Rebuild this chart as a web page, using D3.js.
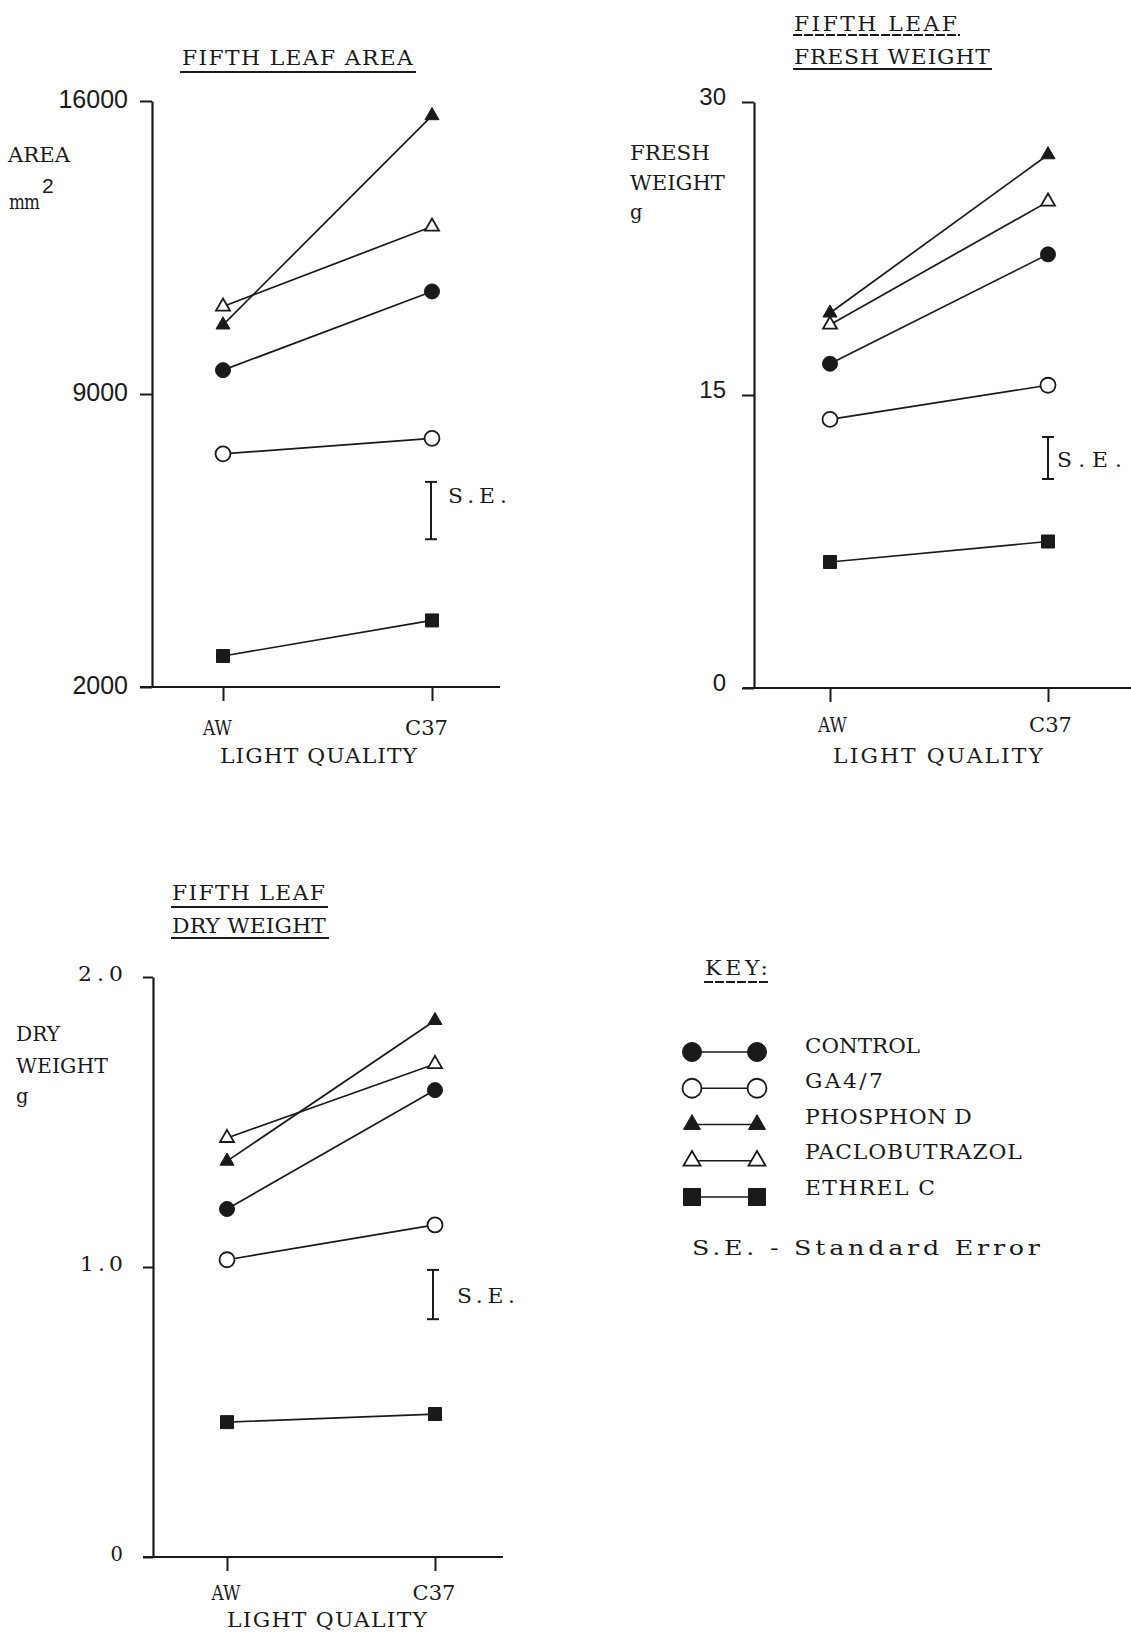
<!DOCTYPE html>
<html>
<head>
<meta charset="utf-8">
<script src="https://cdn.jsdelivr.net/npm/d3@7"></script>
<style>
  html, body { margin: 0; padding: 0; background: #fff; }
  svg { display: block; }
  .tw { font-family: "DejaVu Serif", "Liberation Serif", serif; fill: #1a1a1a; }
  .num { font-family: "Liberation Sans", "DejaVu Sans", sans-serif; fill: #1a1a1a; }
</style>
</head>
<body>
<svg id="fig" width="1131" height="1635"></svg>
<script>
// Light-quality treatments on the x axis
const lightQuality = ["AW", "C37"];

// Growth-regulator treatments (legend order)
const treatments = ["CONTROL", "GA4/7", "PHOSPHON D", "PACLOBUTRAZOL", "ETHREL C"];
const treatmentMarkers = ["circleFilled", "circleOpen", "triangleFilled", "triangleOpen", "squareFilled"];

// Fifth leaf area, mm^2 (values per treatment, AW then C37)
const areaAW  = [9570, 7570, 10650, 11090, 2740];
const areaC37 = [11450, 7940, 15650, 13000, 3590];
const areaTicks = [2000, 9000, 16000];
const areaSE = [5530, 6900];

// Fifth leaf fresh weight, g
const freshAW  = [16.6, 13.75, 19.2, 18.6, 6.45];
const freshC37 = [22.2, 15.5, 27.3, 24.9, 7.5];
const freshTicks = [0, 15, 30];
const freshSE = [10.7, 12.85];

// Fifth leaf dry weight, g
const dryAW  = [1.20, 1.025, 1.365, 1.445, 0.465];
const dryC37 = [1.61, 1.145, 1.85, 1.70, 0.493];
const dryTicks = [0, 1.0, 2.0];
const dryTickLabels = ["0", "1.0", "2.0"];
const drySE = [0.82, 0.99];

const svg = d3.select("#fig");
const INK = "#1a1a1a";
const TW_SIZE = 19.5;

function markerPath(type, size) {
  if (type.startsWith("circle")) return d3.symbol(d3.symbolCircle, size * size * Math.PI / 4)();
  if (type.startsWith("triangle")) return d3.symbol(d3.symbolTriangle, size * size * Math.sqrt(3) / 4)();
  return d3.symbol(d3.symbolSquare, size * size)();
}

function drawMarker(g, type, x, y, size) {
  const open = type.endsWith("Open");
  g.append("path")
    .attr("d", markerPath(type, size))
    .attr("transform", `translate(${x},${y})`)
    .attr("fill", open ? "#fff" : INK)
    .attr("stroke", INK)
    .attr("stroke-width", open ? 1.8 : 1);
}

// Give a label the even pitch of typed text: widen glyphs a little,
// then pad the letter spacing until it spans the wanted width.
function fitTyped(t, width, maxScale = 1.12) {
  const node = t.node();
  const str = t.text();
  const n = Math.max(1, str.length - 1);
  const w0 = node.getComputedTextLength();
  const s = Math.max(0.8, Math.min(maxScale, width / w0));
  const ls = (width / s - w0) / n;
  t.attr("letter-spacing", ls);
  const anchor = t.attr("text-anchor") || "start";
  const x = +t.attr("x");
  // keep the anchor point fixed while stretching horizontally
  const shift = anchor === "middle" ? ls / 2 : 0;
  t.attr("transform", `translate(${x + shift * s},0) scale(${s},1) translate(${-x},0)`);
  return t;
}

function twText(g, str, x, y, opts = {}) {
  const t = g.append("text")
    .attr("class", "tw")
    .attr("x", x).attr("y", y)
    .attr("font-size", opts.size || TW_SIZE)
    .attr("text-anchor", opts.anchor || "start")
    .text(str);
  if (opts.len) fitTyped(t, opts.len, opts.maxScale);
  return t;
}

function underline(g, x1, x2, y, dashed) {
  g.append("line")
    .attr("x1", x1).attr("x2", x2).attr("y1", y).attr("y2", y)
    .attr("stroke", INK).attr("stroke-width", 2)
    .attr("stroke-dasharray", dashed ? "9,2" : null);
}

function panel(cfg) {
  const g = svg.append("g");
  const y = d3.scaleLinear().domain(cfg.yDomain).range(cfg.yRange);
  const x = d3.scalePoint().domain(lightQuality).range(cfg.xRange);

  // y axis: ticks on the left
  const yAxis = d3.axisLeft(y)
    .tickValues(cfg.ticks)
    .tickSize(cfg.tickLen)
    .tickSizeOuter(0)
    .tickFormat((d, i) => cfg.tickLabels ? cfg.tickLabels[i] : d3.format("d")(d));
  const ya = g.append("g").attr("transform", `translate(${cfg.axisX},0)`).call(yAxis);
  ya.select(".domain").attr("stroke", INK).attr("stroke-width", 2.2);
  ya.selectAll(".tick line").attr("stroke", INK).attr("stroke-width", 2);
  ya.selectAll(".tick text")
    .attr("class", cfg.tickFont)
    .attr("font-size", cfg.tickSize)
    .attr("x", -cfg.labelGap)
    .attr("dy", cfg.tickDy);
  if (cfg.tickLens) ya.selectAll(".tick text").each(function (d, i) {
    if (cfg.tickLens[i]) {
      const t = d3.select(this).attr("text-anchor", "start").attr("x", -cfg.labelGap - cfg.tickLens[i]);
      fitTyped(t, cfg.tickLens[i]);
    }
  });

  // x axis baseline and category ticks below it
  const base = y(cfg.yDomain[0]);
  g.append("line")
    .attr("x1", cfg.baseX[0]).attr("x2", cfg.baseX[1])
    .attr("y1", base).attr("y2", base)
    .attr("stroke", INK).attr("stroke-width", 2.2);
  const xAxis = d3.axisBottom(x).tickSize(14).tickFormat("");
  const xa = g.append("g").attr("transform", `translate(0,${base})`).call(xAxis);
  xa.select(".domain").remove();
  xa.selectAll(".tick line").attr("stroke", INK).attr("stroke-width", 2);
  xa.selectAll(".tick").each(function (d) {
    const t = d3.select(this).append("text")
      .attr("class", "tw").attr("font-size", TW_SIZE).attr("fill", INK)
      .attr("text-anchor", "middle")
      .attr("x", cfg.catDx).attr("y", cfg.catDy)
      .text(d);
    fitTyped(t, d === "AW" ? 29 : 43);
  });
  twText(g, "LIGHT QUALITY", (cfg.xRange[0] + cfg.xRange[1]) / 2 + cfg.lqDx, base + cfg.lqDy,
    { anchor: "middle", len: cfg.lqLen });

  // treatment lines and markers
  treatments.forEach((t, i) => {
    const v = [cfg.aw[i], cfg.c37[i]];
    g.append("path")
      .datum(v)
      .attr("d", d3.line().x((d, j) => x(lightQuality[j])).y(d => y(d)))
      .attr("fill", "none").attr("stroke", INK).attr("stroke-width", 1.7);
  });
  treatments.forEach((t, i) => {
    drawMarker(g, treatmentMarkers[i], x("AW"), y(cfg.aw[i]), cfg.markerSize[i]);
    drawMarker(g, treatmentMarkers[i], x("C37"), y(cfg.c37[i]), cfg.markerSize[i]);
  });

  // standard error bar
  const seX = x("C37") + cfg.seDx;
  const y1 = y(cfg.se[0]), y2 = y(cfg.se[1]);
  g.append("line").attr("x1", seX).attr("x2", seX).attr("y1", y1).attr("y2", y2)
    .attr("stroke", INK).attr("stroke-width", 2);
  [y1, y2].forEach(yy => g.append("line")
    .attr("x1", seX - 6).attr("x2", seX + 6).attr("y1", yy).attr("y2", yy)
    .attr("stroke", INK).attr("stroke-width", 2));
  twText(g, "S.E.", seX + cfg.seLabelDx, (y1 + y2) / 2 + cfg.seLabelDy, { len: cfg.seLen });

  return g;
}

// ---- Fifth leaf area ----
const gA = panel({
  yDomain: [2000, 16000], yRange: [687, 101], xRange: [223, 432],
  axisX: 152, baseX: [140, 500], ticks: areaTicks, tickLen: 12,
  tickFont: "num", tickSize: 25, labelGap: 24, tickDy: "0.25em",
  catDx: -6, catDy: 48, lqDx: -9, lqDy: 76, lqLen: 197,
  aw: areaAW, c37: areaC37, markerSize: [15, 15, 14, 14, 13],
  se: areaSE, seDx: -1, seLabelDx: 17, seLabelDy: -8, seLen: 59
});
twText(gA, "FIFTH LEAF AREA", 182, 65, { len: 231 });
underline(gA, 180, 416, 72, false);
twText(gA, "AREA", 8, 162, { len: 62 });
twText(gA, "mm", 9, 209, { size: 21, len: 31 });
gA.append("text").attr("class", "num").attr("x", 42).attr("y", 193)
  .attr("font-size", 21).text("2");

// ---- Fifth leaf fresh weight ----
const gB = panel({
  yDomain: [0, 30], yRange: [688, 102], xRange: [830, 1048],
  axisX: 754, baseX: [743, 1135], ticks: freshTicks, tickLen: 12,
  tickFont: "num", tickSize: 24, labelGap: 28, tickDy: "0.1em",
  catDx: 2, catDy: 44, lqDx: -1, lqDy: 75, lqLen: 210,
  aw: freshAW, c37: freshC37, markerSize: [15, 15, 14, 14, 13],
  se: freshSE, seDx: 0, seLabelDx: 9, seLabelDy: 9, seLen: 65
});
twText(gB, "FIFTH LEAF", 794, 31, { len: 163 });
underline(gB, 793, 960, 35, true);
twText(gB, "FRESH WEIGHT", 794, 64, { len: 196 });
underline(gB, 793, 992, 69, false);
twText(gB, "FRESH", 630, 160, { len: 80 });
twText(gB, "WEIGHT", 630, 190, { len: 95 });
twText(gB, "g", 630, 219);

// ---- Fifth leaf dry weight ----
const gC = panel({
  yDomain: [0, 2], yRange: [1557, 977], xRange: [227, 435],
  axisX: 153, baseX: [143, 503], ticks: dryTicks, tickLabels: dryTickLabels, tickLens: [0, 43, 45], tickLen: 10,
  tickFont: "tw", tickSize: TW_SIZE, labelGap: 30, tickDy: "0.2em",
  catDx: -1.5, catDy: 43, lqDx: -4, lqDy: 70, lqLen: 200,
  aw: dryAW, c37: dryC37, markerSize: [15, 15, 14, 14, 13],
  se: drySE, seDx: -2, seLabelDx: 24, seLabelDy: 8, seLen: 58
});
twText(gC, "FIFTH LEAF", 172, 900, { len: 153 });
underline(gC, 171, 328, 907, false);
twText(gC, "DRY WEIGHT", 172, 933, { len: 154 });
underline(gC, 171, 329, 938, false);
twText(gC, "DRY", 16, 1041, { len: 44 });
twText(gC, "WEIGHT", 16, 1073, { len: 92 });
twText(gC, "g", 16, 1103);

// ---- Key ----
const keyLens = [115, 78, 167, 217, 130];
const gK = svg.append("g");
twText(gK, "KEY:", 705, 975, { len: 63 });
underline(gK, 704, 770, 982, true);
const keyY = d3.scalePoint().domain(treatments).range([1052, 1197]);
const keyText = d3.scalePoint().domain(treatments).range([1053, 1195]);
treatments.forEach((t, i) => {
  const yy = keyY(t);
  gK.append("line").attr("x1", 692).attr("x2", 757).attr("y1", yy).attr("y2", yy)
    .attr("stroke", INK).attr("stroke-width", 1.6);
  const sz = treatmentMarkers[i].startsWith("circle") ? 19 : 17;
  drawMarker(gK, treatmentMarkers[i], 692, yy, sz);
  drawMarker(gK, treatmentMarkers[i], 757, yy, sz);
  twText(gK, t, 805, keyText(t), { len: keyLens[i] });
});
twText(gK, "S.E. - Standard Error", 692, 1255, { len: 348, maxScale: 1.3 });
</script>
</body>
</html>
